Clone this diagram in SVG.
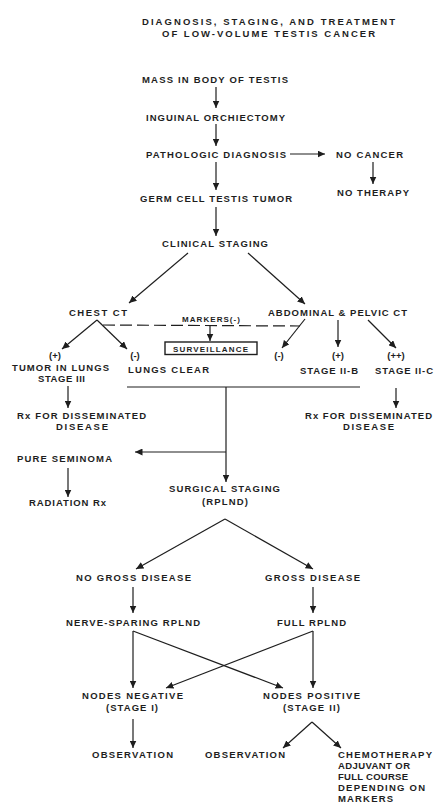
<svg xmlns="http://www.w3.org/2000/svg" width="435" height="804" viewBox="0 0 435 804">
  <style>
    text { font-family: "Liberation Sans", Arial, sans-serif; font-weight: bold; font-size: 9.5px; fill: #1e1e1e; text-anchor: middle; }
    .small { font-size: 8px; }
    .left { text-anchor: start; }
    .ln { stroke: #1e1e1e; stroke-width: 1.2; fill: none; }
    .arr { marker-end: url(#ah); }
    .dash { stroke-dasharray: 12 5; }
  </style>
  <defs>
    <marker id="ah" markerUnits="userSpaceOnUse" markerWidth="8" markerHeight="7" refX="7.5" refY="3.5" orient="auto">
      <path d="M0,0 L7.5,3.5 L0,7 z" fill="#1e1e1e"/>
    </marker>
  </defs>
  <rect width="435" height="804" fill="#ffffff"/>

  <g id="title">
    <text x="268.5" y="24.5" textLength="253" lengthAdjust="spacing">DIAGNOSIS, STAGING, AND TREATMENT</text>
    <text x="268.5" y="36.5" textLength="213" lengthAdjust="spacing">OF LOW-VOLUME TESTIS CANCER</text>
  </g>

  <g id="mass"><text x="215" y="82.5" textLength="146" lengthAdjust="spacing">MASS IN BODY OF TESTIS</text></g>
  <g id="orchiectomy"><text x="215.5" y="120.5" textLength="139" lengthAdjust="spacing">INGUINAL ORCHIECTOMY</text></g>
  <g id="pathologic"><text x="216" y="157.5" textLength="140" lengthAdjust="spacing">PATHOLOGIC DIAGNOSIS</text></g>
  <g id="no-cancer"><text x="369.5" y="157.5" textLength="67" lengthAdjust="spacing">NO CANCER</text></g>
  <g id="no-therapy"><text x="373" y="195.5" textLength="72" lengthAdjust="spacing">NO THERAPY</text></g>
  <g id="germ-cell"><text x="216" y="201.5" textLength="152" lengthAdjust="spacing">GERM CELL TESTIS TUMOR</text></g>
  <g id="clinical-staging"><text x="215" y="246.5" textLength="106" lengthAdjust="spacing">CLINICAL STAGING</text></g>
  <g id="chest-ct"><text x="98" y="315.5" textLength="58" lengthAdjust="spacing">CHEST CT</text></g>
  <g id="abdominal-ct"><text x="337.5" y="315.5" textLength="139" lengthAdjust="spacing">ABDOMINAL &amp; PELVIC CT</text></g>
  <g id="markers"><text class="small" x="211" y="322" textLength="58" lengthAdjust="spacing">MARKERS(-)</text></g>
  <g id="surveillance">
    <rect x="165" y="342" width="92" height="12.5" fill="none" stroke="#1e1e1e" stroke-width="1.4"/>
    <text class="small" x="210.5" y="351.5" textLength="75" lengthAdjust="spacing">SURVEILLANCE</text>
  </g>
  <g id="tumor-in-lungs">
    <text x="55" y="359">(+)</text>
    <text x="60.5" y="370.5" textLength="97" lengthAdjust="spacing">TUMOR IN LUNGS</text>
    <text x="61.5" y="382" textLength="47" lengthAdjust="spacing">STAGE III</text>
  </g>
  <g id="lungs-clear">
    <text x="135" y="359">(-)</text>
    <text x="168.5" y="373" textLength="81" lengthAdjust="spacing">LUNGS CLEAR</text>
  </g>
  <g id="abd-negative"><text x="279" y="359">(-)</text></g>
  <g id="stage-iib">
    <text x="338" y="359">(+)</text>
    <text x="329" y="374" textLength="58" lengthAdjust="spacing">STAGE II-B</text>
  </g>
  <g id="stage-iic">
    <text x="396" y="359">(++)</text>
    <text x="404" y="374" textLength="58" lengthAdjust="spacing">STAGE II-C</text>
  </g>
  <g id="rx-left">
    <text x="81.5" y="419" textLength="129" lengthAdjust="spacing">Rx FOR DISSEMINATED</text>
    <text x="82" y="429.5" textLength="52" lengthAdjust="spacing">DISEASE</text>
  </g>
  <g id="rx-right">
    <text x="368.5" y="419" textLength="127" lengthAdjust="spacing">Rx FOR DISSEMINATED</text>
    <text x="368.5" y="429.5" textLength="51" lengthAdjust="spacing">DISEASE</text>
  </g>
  <g id="pure-seminoma"><text x="64.5" y="462" textLength="95" lengthAdjust="spacing">PURE SEMINOMA</text></g>
  <g id="radiation"><text x="67.5" y="506" textLength="77" lengthAdjust="spacing">RADIATION Rx</text></g>
  <g id="surgical-staging">
    <text x="224.5" y="492" textLength="111" lengthAdjust="spacing">SURGICAL STAGING</text>
    <text x="225" y="504.5" textLength="46" lengthAdjust="spacing">(RPLND)</text>
  </g>
  <g id="no-gross"><text x="133.5" y="581" textLength="115" lengthAdjust="spacing">NO GROSS DISEASE</text></g>
  <g id="gross"><text x="312.5" y="581" textLength="95" lengthAdjust="spacing">GROSS DISEASE</text></g>
  <g id="nerve-sparing"><text x="133" y="626" textLength="134" lengthAdjust="spacing">NERVE-SPARING RPLND</text></g>
  <g id="full-rplnd"><text x="311.5" y="626" textLength="69" lengthAdjust="spacing">FULL RPLND</text></g>
  <g id="nodes-negative">
    <text x="132.5" y="699" textLength="101" lengthAdjust="spacing">NODES NEGATIVE</text>
    <text x="132" y="711" textLength="52" lengthAdjust="spacing">(STAGE I)</text>
  </g>
  <g id="nodes-positive">
    <text x="311.5" y="699" textLength="97" lengthAdjust="spacing">NODES POSITIVE</text>
    <text x="311.5" y="711" textLength="57" lengthAdjust="spacing">(STAGE II)</text>
  </g>
  <g id="observation-i"><text x="132.5" y="758" textLength="81" lengthAdjust="spacing">OBSERVATION</text></g>
  <g id="observation-ii"><text x="245" y="758" textLength="80" lengthAdjust="spacing">OBSERVATION</text></g>
  <g id="chemotherapy">
    <text class="left" x="338" y="758" textLength="94" lengthAdjust="spacing">CHEMOTHERAPY</text>
    <text class="left" x="338" y="769" textLength="72" lengthAdjust="spacing">ADJUVANT OR</text>
    <text class="left" x="338" y="780" textLength="70" lengthAdjust="spacing">FULL COURSE</text>
    <text class="left" x="338" y="791" textLength="87" lengthAdjust="spacing">DEPENDING ON</text>
    <text class="left" x="338" y="802" textLength="55" lengthAdjust="spacing">MARKERS</text>
  </g>

  <g id="connectors">
    <line class="ln arr" x1="216" y1="87" x2="216" y2="108"/>
    <line class="ln arr" x1="216" y1="124" x2="216" y2="146"/>
    <line class="ln arr" x1="290" y1="154" x2="325" y2="154"/>
    <line class="ln arr" x1="373" y1="162" x2="373" y2="184"/>
    <line class="ln arr" x1="216" y1="162" x2="216" y2="190"/>
    <line class="ln arr" x1="216" y1="207" x2="216" y2="236"/>
    <line class="ln arr" x1="188" y1="253" x2="129" y2="303"/>
    <line class="ln arr" x1="248" y1="253" x2="305" y2="304"/>
    <line class="ln arr" x1="97" y1="320" x2="62" y2="349"/>
    <line class="ln arr" x1="97" y1="320" x2="127" y2="349"/>
    <line class="ln dash" x1="103" y1="325" x2="300" y2="326"/>
    <line class="ln arr" x1="210" y1="325" x2="210" y2="341"/>
    <line class="ln arr" x1="305" y1="319" x2="282" y2="348"/>
    <line class="ln arr" x1="338" y1="320" x2="338" y2="347"/>
    <line class="ln arr" x1="368" y1="320" x2="396" y2="348"/>
    <line class="ln arr" x1="68" y1="386" x2="68" y2="408"/>
    <line class="ln" x1="127" y1="387" x2="360" y2="387"/>
    <line class="ln arr" x1="396" y1="388" x2="396" y2="408"/>
    <line class="ln arr" x1="226" y1="387" x2="226" y2="482"/>
    <line class="ln arr" x1="226" y1="452" x2="135" y2="452"/>
    <line class="ln arr" x1="68" y1="468" x2="68" y2="497"/>
    <line class="ln arr" x1="225" y1="519" x2="136" y2="569"/>
    <line class="ln arr" x1="225" y1="519" x2="313" y2="569"/>
    <line class="ln arr" x1="133" y1="587" x2="133" y2="613"/>
    <line class="ln arr" x1="313" y1="587" x2="313" y2="613"/>
    <line class="ln arr" x1="133" y1="631" x2="133" y2="688"/>
    <line class="ln arr" x1="133" y1="631" x2="283" y2="688"/>
    <line class="ln arr" x1="313" y1="631" x2="166" y2="688"/>
    <line class="ln arr" x1="313" y1="631" x2="313" y2="688"/>
    <line class="ln arr" x1="133" y1="719" x2="133" y2="748"/>
    <line class="ln arr" x1="312" y1="722" x2="283" y2="748"/>
    <line class="ln arr" x1="312" y1="722" x2="341" y2="748"/>
  </g>
</svg>
